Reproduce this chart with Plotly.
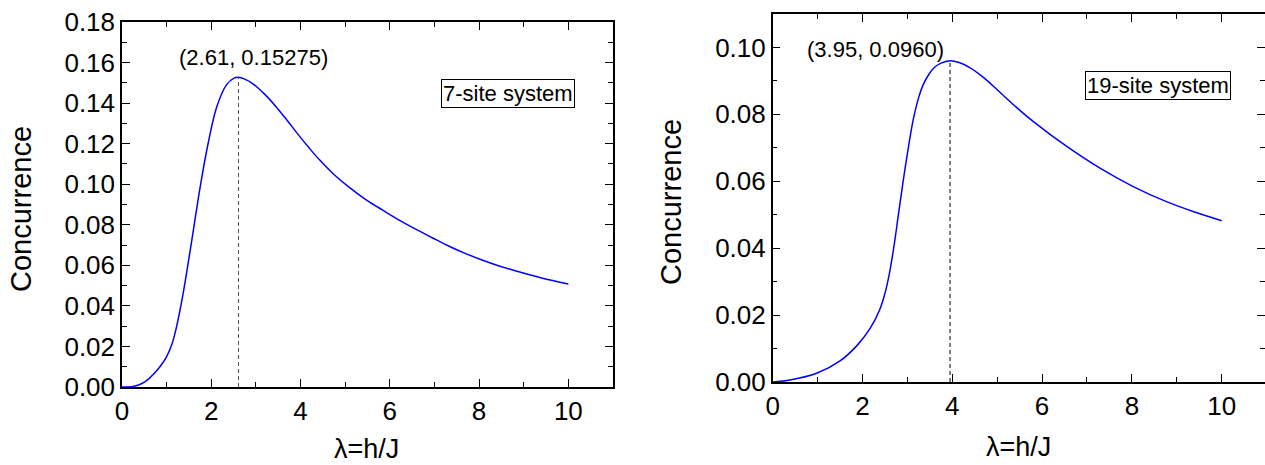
import plotly.graph_objects as go

# Concurrence vs. field ratio for the 7-site system
lam_7 = [0, 0.25, 0.37, 0.5, 0.6, 0.7, 0.85, 1.0, 1.12, 1.22, 1.37, 1.5, 1.6, 1.75, 1.93,
         2.12, 2.34, 2.5, 2.61, 2.75, 2.94, 3.2, 3.46, 3.72, 3.98, 4.2, 4.43, 4.73, 5.1,
         5.47, 5.85, 6.22, 6.6, 6.96, 7.34, 7.7, 8.08, 8.45, 8.83, 9.4, 10.0]
conc_7 = [0, 0.0003, 0.0010, 0.0024, 0.0040, 0.0062, 0.0100, 0.0150, 0.0212, 0.0295,
          0.0462, 0.0635, 0.0775, 0.0985, 0.1202, 0.1380, 0.1490, 0.1522, 0.15275, 0.1518,
          0.1494, 0.1443, 0.1380, 0.1309, 0.1236, 0.1177, 0.1119, 0.1052, 0.0983, 0.0923,
          0.0871, 0.0822, 0.0776, 0.0735, 0.0693, 0.0658, 0.0625, 0.0597, 0.0572, 0.0538,
          0.0508]

# Concurrence vs. field ratio for the 19-site system
lam_19 = [0, 0.385, 0.98, 1.5, 1.87, 2.17, 2.39, 2.5, 2.6, 2.7, 2.8, 2.9, 3.0, 3.13, 3.25,
          3.35, 3.48, 3.6, 3.75, 3.95, 4.15, 4.39, 4.7, 5.06, 5.43, 5.8, 6.55, 7.29, 8.03,
          8.77, 9.4, 10.0]
conc_19 = [0, 0.0006, 0.0026, 0.0063, 0.0108, 0.0160, 0.0218, 0.0265, 0.0325, 0.0405,
           0.0500, 0.0595, 0.0683, 0.0784, 0.0850, 0.0888, 0.0920, 0.0940, 0.0953, 0.0960,
           0.0955, 0.0940, 0.0910, 0.0866, 0.0821, 0.0779, 0.0704, 0.0639, 0.0584, 0.0539,
           0.0508, 0.0482]

peak_7 = (2.61, 0.15275)
peak_19 = (3.95, 0.0960)

W, H = 1265, 465
FONT = "Liberation Sans, Arial, sans-serif"


def px_x(p):
    return p / W


def px_y(p):
    return 1 - p / H


fig = go.Figure()

line_style = dict(color="#0000ff", width=1.5, shape="spline", smoothing=1.0)
fig.add_trace(go.Scatter(x=lam_7, y=conc_7, mode="lines", line=line_style,
                         xaxis="x", yaxis="y", showlegend=False))
fig.add_trace(go.Scatter(x=lam_19, y=conc_19, mode="lines", line=line_style,
                         xaxis="x2", yaxis="y2", showlegend=False))

# dashed markers at the maxima
fig.add_trace(go.Scatter(x=[peak_7[0], peak_7[0]], y=[0, peak_7[1]], mode="lines",
                         line=dict(color="#555555", width=1, dash="4px,3px"),
                         xaxis="x", yaxis="y", showlegend=False))
fig.add_trace(go.Scatter(x=[peak_19[0], peak_19[0]], y=[0, peak_19[1]], mode="lines",
                         line=dict(color="#000000", width=1, dash="4px,3px"),
                         xaxis="x2", yaxis="y2", showlegend=False))

tickfont = dict(family=FONT, size=26, color="black")
common = dict(showgrid=False, zeroline=False, showline=True, linecolor="black",
              linewidth=1.5, ticks="inside", ticklen=8, tickwidth=1.2,
              tickcolor="black", tickfont=tickfont, automargin=False)

xcommon = dict(common, range=[0, 11], tickvals=[0, 2, 4, 6, 8, 10],
               minor=dict(ticks="inside", tickvals=[1, 3, 5, 7, 9], ticklen=5,
                          tickwidth=1.2, tickcolor="black"))

fig.update_layout(
    width=W, height=H,
    margin=dict(l=0, r=0, t=0, b=0, autoexpand=False),
    paper_bgcolor="white", plot_bgcolor="white",
    xaxis=dict(xcommon, domain=[px_x(122), px_x(613)], anchor="y", mirror="ticks"),
    yaxis=dict(common, domain=[px_y(387), px_y(22)], anchor="x", mirror="ticks",
               range=[0, 0.18], dtick=0.02, tickformat=".2f",
               minor=dict(ticks="inside", dtick=0.01, ticklen=5, tickwidth=1.2,
                          tickcolor="black")),
    xaxis2=dict(xcommon, domain=[px_x(772.7), 1.0], range=[0, 10.965],
                anchor="y2", mirror="ticks"),
    yaxis2=dict(common, domain=[px_y(382), px_y(14)], anchor="x2", mirror=False,
                range=[0, 0.11], tickvals=[0, 0.02, 0.04, 0.06, 0.08, 0.10],
                tickformat=".2f",
                minor=dict(ticks="inside", dtick=0.01, ticklen=5, tickwidth=1.2,
                           tickcolor="black")),
    # right-hand ticks of the second panel, drawn without a spine
    yaxis3=dict(overlaying="y2", side="right", anchor="x2", range=[0, 0.11],
                showline=False, showgrid=False, zeroline=False, showticklabels=False,
                automargin=False,
                ticks="inside", ticklen=8, tickwidth=1.2, tickcolor="black",
                tickvals=[0, 0.02, 0.04, 0.06, 0.08, 0.10],
                minor=dict(ticks="inside", dtick=0.01, ticklen=5, tickwidth=1.2,
                           tickcolor="black")),
)

# invisible trace so the overlay axis is drawn
fig.add_trace(go.Scatter(x=[0], y=[0], mode="markers", marker=dict(opacity=0),
                         xaxis="x2", yaxis="y3", showlegend=False, hoverinfo="skip"))

title_font = dict(family=FONT, size=29, color="black")
xtitle_font = dict(family=FONT, size=27, color="black")
ann_font = dict(family=FONT, size=22, color="black")
box_font = dict(family=FONT, size=22, color="black")

annotations = [
    dict(text="Concurrence", x=px_x(21), y=px_y(209), xref="paper", yref="paper",
         textangle=-90, showarrow=False, font=title_font, xanchor="center", yanchor="middle"),
    dict(text="Concurrence", x=px_x(671), y=px_y(202), xref="paper", yref="paper",
         textangle=-90, showarrow=False, font=title_font, xanchor="center", yanchor="middle"),
    dict(text="λ=h/J", x=px_x(366), y=0, xref="paper", yref="paper",
         showarrow=False, font=xtitle_font, xanchor="center", yanchor="bottom",
         borderpad=0),
    dict(text="λ=h/J", x=px_x(1018), y=px_y(463), xref="paper", yref="paper",
         showarrow=False, font=xtitle_font, xanchor="center", yanchor="bottom",
         borderpad=0),
    dict(text=f"({peak_7[0]}, {peak_7[1]})", x=2.95, y=0.1627, xref="x", yref="y",
         showarrow=False, font=ann_font, xanchor="center", yanchor="middle"),
    dict(text=f"({peak_19[0]}, {peak_19[1]:.4f})", x=2.28, y=0.0993, xref="x2", yref="y2",
         showarrow=False, font=ann_font, xanchor="center", yanchor="middle"),
    dict(text="7-site system", x=8.65, y=0.1445, xref="x", yref="y",
         showarrow=False, font=box_font, xanchor="center", yanchor="middle",
         bordercolor="black", borderwidth=1, borderpad=1, bgcolor="white"),
    dict(text="19-site system", x=8.58, y=0.0887, xref="x2", yref="y2",
         showarrow=False, font=box_font, xanchor="center", yanchor="middle",
         bordercolor="black", borderwidth=1, borderpad=1, bgcolor="white"),
]
fig.update_layout(annotations=annotations)

fig.write_html("out.html")
